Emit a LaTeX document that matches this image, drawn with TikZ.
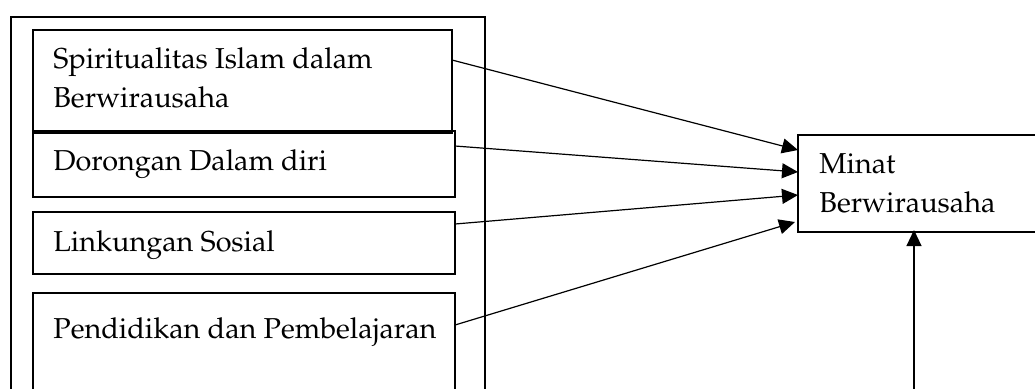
\documentclass[tikz,border=0pt]{standalone}
\usepackage[T1]{fontenc}
\usepackage{mathpazo}
\usetikzlibrary{arrows.meta}
\begin{document}
\begin{tikzpicture}[x=0.5pt,y=-0.5pt,
  box/.style={draw,line width=0.7pt,rectangle,inner sep=0pt,outer sep=0pt,anchor=north west},
  lbl/.style={anchor=base west,inner sep=0pt,font=\fontsize{14.4}{19.5}\selectfont},
  arr/.style={line width=0.6pt,-{Triangle[length=8pt,width=7.5pt]}}]
\clip (0,0) rectangle (1035,388);
\fill[white] (0,0) rectangle (1035,388);
\node[box,minimum width=237pt,minimum height=191.5pt] (outer) at (11,17) {};
\node[box,minimum width=209.5pt,minimum height=51.5pt] (b1) at (33,30) {};
\node[box,minimum width=211pt,minimum height=33pt] (b2) at (33,131) {};
\node[box,minimum width=211pt,minimum height=31pt] (b3) at (33,212) {};
\node[box,minimum width=211pt,minimum height=53.5pt] (b4) at (33,293) {};
\node[box,minimum width=123.5pt,minimum height=48.5pt] (m) at (798,135) {};
\node[lbl] (t1a) at (53,68) {Spiritualitas Islam dalam};
\node[lbl] (t1b) at (53,107) {Berwirausaha};
\node[lbl] (t2) at (53,170) {Dorongan Dalam diri};
\node[lbl] (t3) at (53,251) {Linkungan Sosial};
\node[lbl] (t4) at (53,338) {Pendidikan dan Pembelajaran};
\node[lbl] (tma) at (819,173) {Minat};
\node[lbl] (tmb) at (819,212) {Berwirausaha};
\coordinate (s1) at (b1.east |- 0,60);
\coordinate (s2) at (b2.east |- 0,146);
\coordinate (s3) at (b3.east |- 0,224);
\coordinate (s4) at (b4.east |- 0,325);
\coordinate (e1) at (m.west |- 0,150);
\coordinate (e2) at (m.west |- 0,172);
\coordinate (e3) at (m.west |- 0,195);
\coordinate (e4) at (795,222);
\coordinate (v0) at (914,400);
\coordinate (v1) at (914,230);
\draw[arr] (s1) -- (e1);
\draw[arr] (s2) -- (e2);
\draw[arr] (s3) -- (e3);
\draw[arr] (s4) -- (e4);
\draw[arr] (v0) -- (v1);
\end{tikzpicture}
\end{document}
